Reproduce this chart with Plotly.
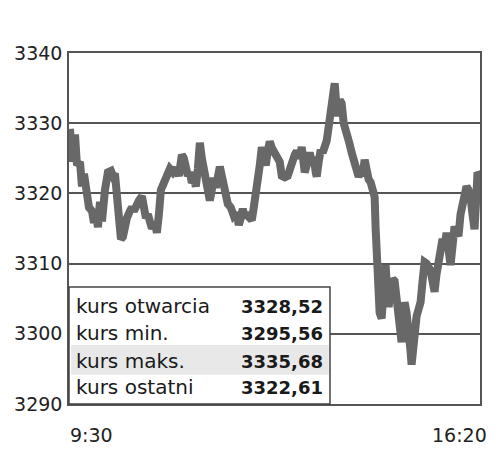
import plotly.graph_objects as go

# minutes after 9:30 and index level
minutes = [0, 2, 5, 7, 10, 12, 14, 17, 19, 22, 24, 26, 28, 30, 32, 35, 38, 41, 43, 45,
           47, 49, 51, 53, 55, 57, 60, 62, 64, 67, 69, 72, 74, 76, 78, 80, 82, 85, 87, 89,
           91, 94, 97, 100, 103, 106, 109, 112, 114, 116, 118, 120, 122, 124, 126, 128, 130, 132, 134, 136,
           138, 140, 142, 144, 146, 148, 150, 152, 154, 156, 158, 161, 164, 167, 169, 171, 173, 175, 177, 180,
           182, 184, 186, 188, 190, 192, 194, 196, 198, 200, 202, 205, 208, 210, 212, 215, 218, 220, 222, 225,
           227, 230, 232, 234, 235, 238, 240, 242, 244, 246, 247, 249, 251, 253, 255, 257, 259, 261, 263, 265,
           267, 268, 270, 272, 274, 276, 278, 280, 282, 284, 287, 289, 291, 293, 295, 297, 299, 301, 303, 305,
           306, 307, 308, 310, 312, 314, 316, 318, 319, 321, 323, 325, 327, 329, 331, 332, 334, 335, 337, 339,
           341, 342, 344, 345, 347, 349, 351, 353, 355, 357, 359, 361, 363, 365, 367, 369, 371, 373, 375, 377,
           379, 381, 383, 385, 387, 389, 391, 393, 395, 397, 399, 401, 403, 405, 407, 408, 410]
prices = [3329.2, 3324.5, 3328.4, 3324.0, 3324.5, 3321.0, 3322.8, 3320.3, 3318.0, 3317.5,
          3315.8, 3317.0, 3315.2, 3318.8, 3316.0, 3320.5, 3323.0, 3323.2, 3322.5, 3322.8,
          3320.0, 3315.5, 3313.5, 3313.8, 3315.8, 3316.5, 3317.5, 3318.0, 3317.5, 3318.8,
          3319.0, 3319.6, 3318.0, 3316.5, 3317.0, 3316.0, 3315.0, 3315.8, 3314.4, 3317.0,
          3320.5, 3321.5, 3322.5, 3323.5, 3323.0, 3323.6, 3322.5, 3325.5, 3325.0, 3323.0,
          3322.5, 3323.0, 3321.5, 3322.0, 3321.0, 3323.5, 3327.2, 3325.0, 3323.5, 3321.5,
          3320.5, 3319.0, 3320.5, 3322.2, 3320.8, 3322.0, 3323.8, 3322.5, 3320.5, 3319.5,
          3318.5, 3318.0, 3316.8, 3317.2, 3315.5, 3316.5, 3317.8, 3316.5, 3317.2, 3316.5,
          3316.2, 3318.0, 3319.5, 3321.0, 3324.0, 3326.6, 3325.5, 3324.0, 3326.0, 3327.4,
          3326.5, 3325.8, 3324.8, 3324.5, 3322.5, 3322.3, 3322.5, 3323.5, 3324.8, 3325.5,
          3326.0, 3325.0, 3326.6, 3324.5, 3323.0, 3324.5, 3325.8, 3324.5, 3325.2, 3323.0,
          3322.4, 3324.5, 3326.2, 3325.8, 3326.6, 3327.5, 3329.5, 3331.5, 3333.5, 3335.7,
          3332.0, 3331.0, 3333.3, 3332.8, 3330.0, 3328.5, 3327.2, 3327.0, 3325.8, 3324.5,
          3323.8, 3322.4, 3323.0, 3322.5, 3324.8, 3323.0, 3322.0, 3321.6, 3320.5, 3319.5,
          3315.0, 3309.5, 3305.0, 3303.0, 3302.2, 3307.0, 3309.8, 3305.0, 3303.8, 3306.5,
          3307.8, 3307.5, 3305.5, 3303.0, 3300.0, 3298.8, 3302.5, 3304.5, 3303.0, 3301.0,
          3297.5, 3295.6, 3299.0, 3300.7, 3302.5, 3303.5, 3304.5, 3307.5, 3310.2, 3310.0,
          3309.5, 3309.0, 3307.5, 3306.0, 3308.5, 3310.5, 3313.0, 3313.5, 3312.4, 3314.4,
          3312.0, 3309.8, 3312.5, 3315.3, 3314.5, 3313.9, 3317.0, 3318.7, 3320.5, 3321.0,
          3320.5, 3319.5, 3317.0, 3314.9, 3320.0, 3323.0, 3322.6]

y_ticks = [3290, 3300, 3310, 3320, 3330, 3340]
x_tick_labels = ["9:30", "16:20"]

table_labels = ["kurs otwarcia", "kurs min.", "kurs maks.", "kurs ostatni"]
table_values = ["3328,52", "3295,56", "3335,68", "3322,61"]

LINE = "#555555"
fig = go.Figure()
fig.add_trace(go.Scatter(x=minutes, y=prices, mode="lines",
                         line=dict(color="#686868", width=8, shape="linear"),
                         hoverinfo="skip", showlegend=False))

fig.update_layout(
    width=484, height=444,
    margin=dict(l=61, r=12, t=45, b=48),
    paper_bgcolor="white", plot_bgcolor="white",
    font=dict(family="DejaVu Sans", color="#222222"),
    xaxis=dict(range=[-1, 410.5], showgrid=False, zeroline=False, showticklabels=False,
               automargin=False,
               ticks="", showline=True, linecolor=LINE, linewidth=1.5, mirror=True),
    yaxis=dict(range=[3290, 3340], tickvals=y_ticks, ticktext=[str(v) for v in y_ticks],
               automargin=False,
               showgrid=True, gridcolor=LINE, gridwidth=1.5, zeroline=False, ticks="",
               ticklabelstandoff=1, tickfont=dict(size=19, color="#222222"),
               showline=True, linecolor=LINE, linewidth=1.5, mirror=True),
)

# x-axis end labels
fig.add_annotation(x=minutes[0], y=0, xref="x", yref="paper", text=x_tick_labels[0],
                   xanchor="left", yanchor="top", yshift=-18, xshift=-2, showarrow=False,
                   font=dict(size=19, color="#222222"))
fig.add_annotation(x=minutes[-1], y=0, xref="x", yref="paper", text=x_tick_labels[1],
                   xanchor="right", yanchor="top", yshift=-18, xshift=9, showarrow=False,
                   font=dict(size=19, color="#222222"))

# summary table
fig.add_shape(type="rect", xref="paper", yref="paper", x0=0, x1=0.635, y0=0, y1=0.333,
              fillcolor="white", line=dict(color="#444444", width=1.5), layer="above")
fig.add_shape(type="rect", xref="paper", yref="paper", x0=0.005, x1=0.632, y0=0.083, y1=0.168,
              fillcolor="#e8e8e8", line=dict(width=0), layer="above")
row_y = [0.279, 0.202, 0.1225, 0.048]
for lab, val, yy in zip(table_labels, table_values, row_y):
    fig.add_annotation(x=0.011, y=yy, xref="paper", yref="paper", text=lab,
                       xanchor="left", yanchor="middle", showarrow=False,
                       font=dict(size=20, color="#1a1a1a"))
    fig.add_annotation(x=0.623, y=yy, xref="paper", yref="paper", text="<b>" + val + "</b>",
                       xanchor="right", yanchor="middle", showarrow=False,
                       font=dict(size=18, color="#1a1a1a"))

fig.write_html("out.html")
